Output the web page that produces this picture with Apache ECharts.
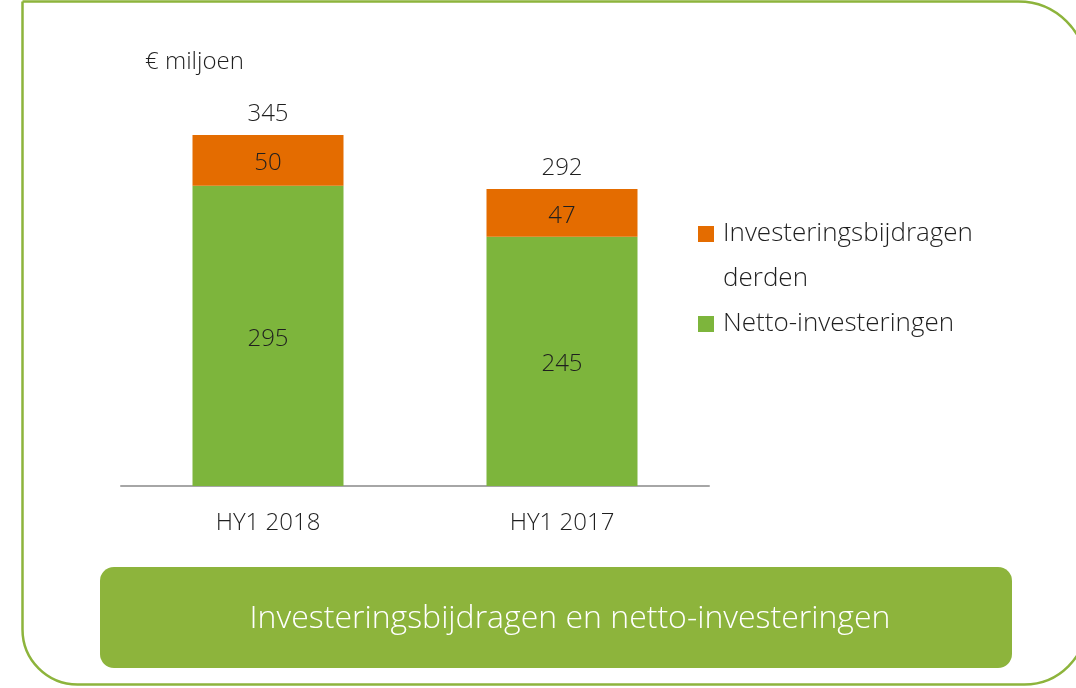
<!DOCTYPE html>
<html>
<head>
<meta charset="utf-8">
<script src="https://cdn.jsdelivr.net/npm/echarts@6/dist/echarts.min.js"></script>
<style>
  html, body { margin: 0; padding: 0; background: #fff; }
  #chart { width: 1076px; height: 688px; }
</style>
</head>
<body>
<div id="chart"></div>
<script>
// data
const categories = ["HY1 2018", "HY1 2017"];
const nettoInvesteringen = [295, 245];
const bijdragenDerden = [50, 47];
const totals = [345, 292];
const seriesNames = ["Investeringsbijdragen derden", "Netto-investeringen"];

const FONT = "'Open Sans', 'Noto Sans', sans-serif";
const TEXT = "#1f1f1f";
const GREEN = "#7db53c";
const ORANGE = "#e46c00";
const FRAME = "#8db43c";

// legend icons: 16px square inside a 16x90 box, so the square sits on the first text line
const iconTop = "path://M0,0L0.01,0Z M0,14.5L16,14.5L16,30.5L0,30.5Z M16,90L15.99,90Z";
const iconMid = "path://M0,0L0.01,0Z M0,37L16,37L16,53L0,53Z M16,90L15.99,90Z";

const labelStyle = { color: TEXT, fontSize: 24, fontWeight: 300, fontFamily: FONT };

const chart = echarts.init(document.getElementById("chart"));

chart.setOption({
  animation: false,
  textStyle: { fontFamily: FONT },
  grid: { left: 121, right: 367, top: 79, bottom: 202 },
  xAxis: {
    type: "category",
    data: categories,
    axisLine: { lineStyle: { color: "#a6a6a6", width: 2 } },
    axisTick: { show: false },
    axisLabel: Object.assign({ margin: 25 }, labelStyle)
  },
  yAxis: {
    type: "value",
    min: 0,
    max: 400,
    show: false,
    splitLine: { show: false }
  },
  legend: {
    orient: "vertical",
    left: 693,
    top: 206.5,
    itemWidth: 16,
    itemHeight: 90,
    itemGap: -22.5,
    selectedMode: false,
    data: [
      { name: seriesNames[0], icon: iconTop },
      { name: seriesNames[1], icon: iconMid }
    ],
    formatter: name => name === seriesNames[0] ? "Investeringsbijdragen\nderden" : name,
    textStyle: { color: TEXT, fontSize: 26, fontWeight: 300, lineHeight: 45, fontFamily: FONT, padding: [0, 0, 0, 4] }
  },
  series: [
    {
      name: seriesNames[1],
      type: "bar",
      stack: "total",
      barWidth: 151,
      barGap: "-100%",
      data: nettoInvesteringen,
      itemStyle: { color: GREEN },
      label: Object.assign({ show: true, position: "inside", offset: [0, 3] }, labelStyle)
    },
    {
      name: seriesNames[0],
      type: "bar",
      stack: "total",
      barWidth: 151,
      barGap: "-100%",
      data: bijdragenDerden,
      itemStyle: { color: ORANGE },
      label: Object.assign({ show: true, position: "inside", offset: [0, 3] }, labelStyle)
    },
    {
      name: "Totaal",
      type: "bar",
      barWidth: 151,
      barGap: "-100%",
      z: 1,
      silent: true,
      data: totals,
      itemStyle: { color: "rgba(0,0,0,0)" },
      label: Object.assign({ show: true, position: "top", distance: 9 }, labelStyle)
    }
  ],
  graphic: [
    {
      type: "rect",
      silent: true,
      shape: { x: 22.5, y: 1.5, width: 1064, height: 683, r: [0, 68, 62, 55] },
      style: { fill: "none", stroke: FRAME, lineWidth: 2.5 }
    },
    {
      type: "text",
      left: 145,
      top: 50,
      style: { text: "€ miljoen", fill: TEXT, font: "300 24px " + FONT }
    },
    {
      type: "rect",
      silent: true,
      shape: { x: 100, y: 567, width: 912, height: 101, r: 14 },
      style: { fill: FRAME }
    },
    {
      type: "text",
      x: 570,
      y: 619,
      style: { text: "Investeringsbijdragen en netto-investeringen", fill: "#fff", font: "300 32px " + FONT, align: "center", verticalAlign: "middle" }
    }
  ]
});
</script>
</body>
</html>
